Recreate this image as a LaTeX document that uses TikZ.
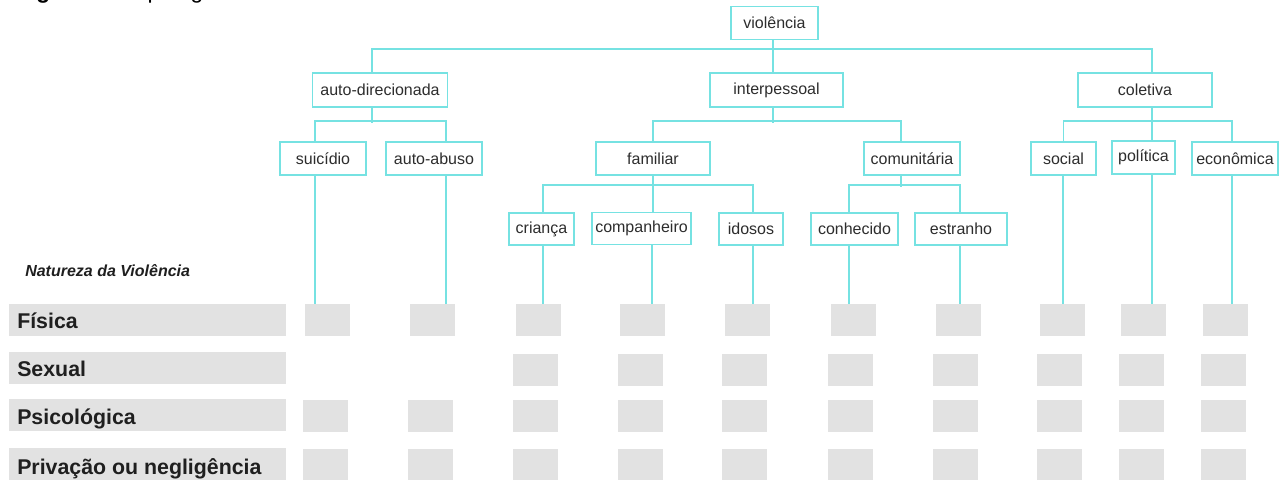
\documentclass[tikz,border=0pt]{standalone}
\usepackage{fontspec}
\setmainfont{Liberation Sans}
\begin{document}
\begin{tikzpicture}[x=0.75pt,y=-0.75pt]
\definecolor{lnc}{RGB}{118,226,226}
\definecolor{gry}{RGB}{226,226,226}
\definecolor{txt}{RGB}{45,45,45}
\tikzset{
 box/.style={draw=lnc, line width=1.35pt, fill=white, inner sep=0pt, minimum height=24.75pt, text=txt, font=\fontsize{12}{14}\selectfont},
 conn/.style={draw=lnc, line width=1.35pt},
 cell/.style={fill=gry, inner sep=0pt, minimum width=33.75pt, minimum height=24pt},
 rowbar/.style={fill=gry},
 rowlab/.style={anchor=base west, inner sep=0pt, text=black!88, font=\fontsize{16}{19}\selectfont\bfseries},
}
\clip (0,0) rectangle (1284,479);
\fill[white] (0,0) rectangle (1284,479);

% caption (cut off at the top, as in the reference)
\node[anchor=base west, inner sep=0pt, font=\fontsize{17}{20}\selectfont, text=black] (cap) at (16,-2) {\textbf{Figura 1} – Tipologia da violência};

% tree nodes
\node[box, minimum width=65.25pt] (viol) at (774.5,23) {violência};
\node[box, minimum width=101.25pt, minimum height=25.5pt] (autod) at (380,90) {auto-direcionada};
\node[box, minimum width=99.75pt, minimum height=25.5pt] (inter) at (776.5,90) {interpessoal};
\node[box, minimum width=100.5pt, minimum height=25.5pt] (colet) at (1145,90) {coletiva};
\node[box, minimum width=64.5pt] (suic) at (323,158.5) {suicídio};
\node[box, minimum width=72pt] (autoab) at (434,158.5) {auto-abuso};
\node[box, minimum width=85.5pt] (famil) at (653,158.5) {familiar};
\node[box, minimum width=72pt] (comun) at (912,158.5) {comunitária};
\node[box, minimum width=48.75pt] (social) at (1063.5,158.5) {social};
\node[box, minimum width=47.25pt] (polit) at (1143.5,157.5) {política};
\node[box, minimum width=64.5pt] (econ) at (1235,158.5) {econômica};
\node[box, minimum width=48.75pt, minimum height=24pt] (crian) at (541.5,229) {criança};
\node[box, minimum width=74.25pt, minimum height=24pt] (comp) at (641.5,228.5) {companheiro};
\node[box, minimum width=48pt, minimum height=24pt] (idos) at (751,229) {idosos};
\node[box, minimum width=65.25pt, minimum height=24pt] (conh) at (854.5,229) {conhecido};
\node[box, minimum width=69pt, minimum height=24pt] (estr) at (961,229) {estranho};

% label column
\node[anchor=base west, inner sep=0pt, font=\fontsize{12}{14}\selectfont\bfseries\itshape, text=black!88] (nat) at (25,276) {Natureza da Violência};
\fill[rowbar] (9,304) rectangle (286,336);
\fill[rowbar] (9,352) rectangle (286,384);
\fill[rowbar] (9,399) rectangle (286,431);
\fill[rowbar] (9,448) rectangle (286,482);
\node[rowlab] (lf) at (17,328) {Física};
\node[rowlab] (ls) at (17,376.5) {Sexual};
\node[rowlab] (lp) at (17,424.5) {Psicológica};
\node[rowlab] (ln) at (17,474) {Privação ou negligência};

% grid cells
\foreach \i/\x in {1/327.5,2/432.5,3/538.5,4/642.5,5/747.5,6/853.5,7/958.5,8/1062.5,9/1143.5,10/1225.5}
  \node[cell] (f\i) at (\x,320) {};
\foreach \i/\x in {3/535.5,4/640.5,5/744.5,6/850.5,7/955.5,8/1059.5,9/1141.5,10/1223.5}
  \node[cell] (s\i) at (\x,369.5) {};
\foreach \i/\x in {1/325.5,2/430.5,3/535.5,4/640.5,5/744.5,6/850.5,7/955.5,8/1059.5,9/1141.5,10/1223.5}
  \node[cell] (p\i) at (\x,416) {};
\foreach \i/\x in {1/325.5,2/430.5,3/535.5,4/640.5,5/744.5,6/850.5,7/955.5,8/1059.5,9/1141.5,10/1223.5}
  \node[cell] (n\i) at (\x,465) {};

% connectors level 1
\draw[conn] (viol.south -| 773,0) -- ++(0,10.5);
\draw[conn] (autod.north -| 372,0) -- ++(0,-23) -| (colet.north -| 1152,0);
\draw[conn] (inter.north -| 773,0) -- ++(0,-23);

% connectors level 2
\draw[conn] (autod.south -| 372,0) -- ++(0,15);
\draw[conn] (suic.north -| 315,0) -- ++(0,-20) -| (autoab.north -| 446,0);
\draw[conn] (inter.south -| 773,0) -- ++(0,15);
\draw[conn] (famil.north) -- ++(0,-20) -| (comun.north -| 901,0);
\draw[conn] (colet.south -| 1152,0) -- (polit.north -| 1152,0);
\draw[conn] (social.north) -- ++(0,-20) -| (econ.north -| 1232,0);

% connectors level 3
\draw[conn] (famil.south) -- (comp.north -| 653,0);
\draw[conn] (crian.north -| 543,0) -- ++(0,-27) -| (idos.north -| 753,0);
\draw[conn] (comun.south -| 901,0) -- ++(0,11);
\draw[conn] (conh.north -| 849,0) -- ++(0,-27) -| (estr.north -| 960,0);

% drop lines to the first row
\draw[conn] (suic.south -| 315,0) -- (f1.north -| 315,0);
\draw[conn] (autoab.south -| 446,0) -- (f2.north -| 446,0);
\draw[conn] (crian.south -| 543,0) -- (f3.north -| 543,0);
\draw[conn] (comp.south -| 652,0) -- (f4.north -| 652,0);
\draw[conn] (idos.south -| 753,0) -- (f5.north -| 753,0);
\draw[conn] (conh.south -| 849,0) -- (f6.north -| 849,0);
\draw[conn] (estr.south -| 960,0) -- (f7.north -| 960,0);
\draw[conn] (social.south -| 1063,0) -- (f8.north -| 1063,0);
\draw[conn] (polit.south -| 1152,0) -- (f9.north -| 1152,0);
\draw[conn] (econ.south -| 1232,0) -- (f10.north -| 1232,0);
\end{tikzpicture}
\end{document}
